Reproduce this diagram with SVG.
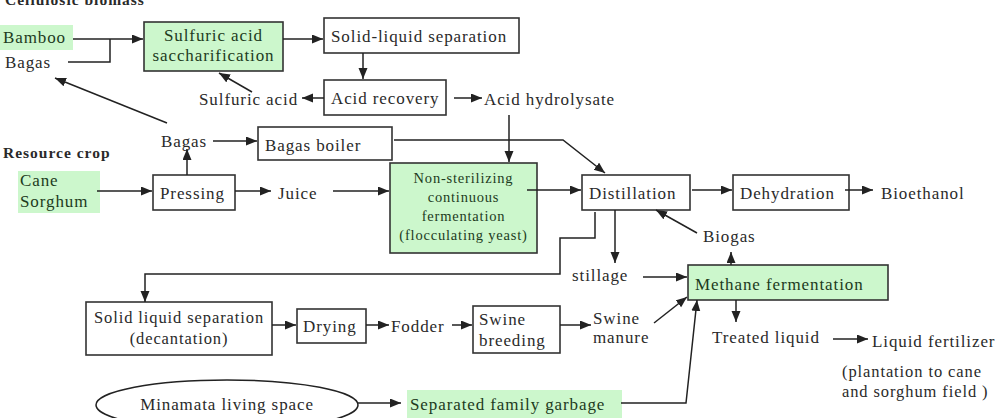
<svg xmlns="http://www.w3.org/2000/svg" width="996" height="418" viewBox="0 0 996 418">
<defs>
<marker id="ah" markerUnits="userSpaceOnUse" markerWidth="12" markerHeight="10" refX="11" refY="4.5" orient="auto">
<path d="M0,0 L11,4.5 L0,9 z" fill="#222"/>
</marker>
<style>
text{font-family:"Liberation Serif","Times New Roman",serif;font-size:17px;letter-spacing:0.9px;fill:#2a2a2a}
.g text{fill:#1d3b1d}
.sm{font-size:14.5px;letter-spacing:0.8px}
.md{font-size:16.5px;letter-spacing:0.9px}
.b{font-weight:bold;font-size:15.5px;letter-spacing:1px}
.box{fill:#fff;stroke:#333;stroke-width:1.6}
.gbox{fill:#ccf7cc;stroke:#333;stroke-width:1.6}
.gr{fill:#ccf7cc}
.c path{fill:none;stroke:#222;stroke-width:1.5}
.c .a{marker-end:url(#ah)}
.mid{text-anchor:middle}
</style>
</defs>
<rect width="996" height="418" fill="#fff"/>

<g id="title-cellulosic"><text class="b" x="5" y="5">Cellulosic biomass</text></g>
<g id="title-resource"><text class="b" x="3" y="158">Resource crop</text></g>

<g id="bamboo" class="g"><rect class="gr" x="0" y="25" width="73" height="25"/><text x="3" y="43">Bamboo</text></g>
<g id="bagas-top"><text x="5" y="68">Bagas</text></g>
<g id="sacch" class="g"><rect class="gbox" x="144" y="22" width="139" height="49"/><text class="mid" x="213.5" y="41">Sulfuric acid</text><text class="mid" x="213.5" y="61">saccharification</text></g>
<g id="sls-top"><rect class="box" x="324" y="18" width="195" height="35"/><text x="331" y="42">Solid-liquid separation</text></g>
<g id="acid-recovery"><rect class="box" x="324" y="80" width="122" height="35"/><text x="331" y="104">Acid recovery</text></g>
<g id="sulfuric-acid"><text x="199" y="105">Sulfuric acid</text></g>
<g id="acid-hydrolysate"><text x="484" y="105">Acid hydrolysate</text></g>

<g id="bagas-mid"><text x="161" y="147">Bagas</text></g>
<g id="bagas-boiler"><rect class="box" x="258" y="127" width="134" height="33"/><text x="265" y="151">Bagas boiler</text></g>
<g id="cane-sorghum" class="g"><rect class="gr" x="18" y="171" width="82" height="42"/><text x="20" y="186">Cane</text><text x="20" y="207">Sorghum</text></g>
<g id="pressing"><rect class="box" x="153" y="175" width="82" height="35"/><text x="160" y="199">Pressing</text></g>
<g id="juice"><text x="278" y="199">Juice</text></g>
<g id="fermentation" class="g"><rect class="gbox" x="390" y="163" width="147" height="90"/><text class="mid sm" x="463.5" y="183">Non-sterilizing</text><text class="mid sm" x="463.5" y="202">continuous</text><text class="mid sm" x="463.5" y="221">fermentation</text><text class="mid sm" x="463.5" y="240">(flocculating yeast)</text></g>
<g id="distillation"><rect class="box" x="582" y="175" width="108" height="35"/><text x="589" y="199">Distillation</text></g>
<g id="dehydration"><rect class="box" x="733" y="175" width="116" height="35"/><text x="740" y="199">Dehydration</text></g>
<g id="bioethanol"><text x="881" y="199">Bioethanol</text></g>
<g id="biogas"><text x="703" y="242">Biogas</text></g>
<g id="stillage"><text x="572" y="281">stillage</text></g>
<g id="methane" class="g"><rect class="gbox" x="688" y="265" width="200" height="35"/><text x="695" y="290">Methane fermentation</text></g>
<g id="treated-liquid"><text x="712" y="343">Treated liquid</text></g>
<g id="liquid-fertilizer"><text x="872" y="347">Liquid fertilizer</text><text class="md" x="842" y="377">(plantation to cane</text><text class="md" x="842" y="397">and sorghum field )</text></g>

<g id="sls-bottom"><rect class="box" x="86" y="302" width="186" height="53"/><text class="mid md" x="179" y="323">Solid liquid separation</text><text class="mid md" x="179" y="344">(decantation)</text></g>
<g id="drying"><rect class="box" x="297" y="309" width="69" height="34"/><text x="303" y="332">Drying</text></g>
<g id="fodder"><text x="391" y="332">Fodder</text></g>
<g id="swine-breeding"><rect class="box" x="473" y="306" width="87" height="47"/><text x="479" y="325">Swine</text><text x="479" y="346">breeding</text></g>
<g id="swine-manure"><text x="593" y="324">Swine</text><text x="593" y="343">manure</text></g>
<g id="minamata"><ellipse cx="227" cy="405" rx="131" ry="25" fill="#fff" stroke="#222" stroke-width="1.5"/><text class="mid" x="227" y="410">Minamata living space</text></g>
<g id="garbage" class="g"><rect class="gr" x="407" y="390" width="215" height="28"/><text x="410" y="410">Separated family garbage</text></g>

<g id="connectors" class="c">
<path class="a" d="M73,39 H143"/>
<path d="M68,62 H110 V39"/>
<path class="a" d="M283,39 H323"/>
<path class="a" d="M363,53 V79"/>
<path class="a" d="M324,98 H302"/>
<path class="a" d="M252,92 L219,73"/>
<path class="a" d="M454,98 H482"/>
<path class="a" d="M509,115 V162"/>
<path class="a" d="M167,123 L55,78"/>
<path class="a" d="M213,141 H257"/>
<path class="a" d="M394,140 H563 L605,173"/>
<path class="a" d="M97,191 H152"/>
<path class="a" d="M187,175 V149"/>
<path class="a" d="M235,191 H271"/>
<path class="a" d="M333,191 H389"/>
<path class="a" d="M527,190 H581"/>
<path class="a" d="M692,190 H732"/>
<path class="a" d="M845,190 H873"/>
<path class="a" d="M697,233 L656,210"/>
<path class="a" d="M731,265 V252"/>
<path class="a" d="M615,210 V263"/>
<path class="a" d="M595,212 V238 H560 V274 H145 V302"/>
<path class="a" d="M643,277 H687"/>
<path class="a" d="M272,325 H296"/>
<path class="a" d="M366,325 H389"/>
<path class="a" d="M452,325 H472"/>
<path class="a" d="M560,325 H591"/>
<path class="a" d="M654,323 L687,297"/>
<path class="a" d="M621,403 H686 L697,300"/>
<path class="a" d="M736,300 V322"/>
<path class="a" d="M833,339 H868"/>
<path class="a" d="M358,403 H401"/>
</g>
</svg>
